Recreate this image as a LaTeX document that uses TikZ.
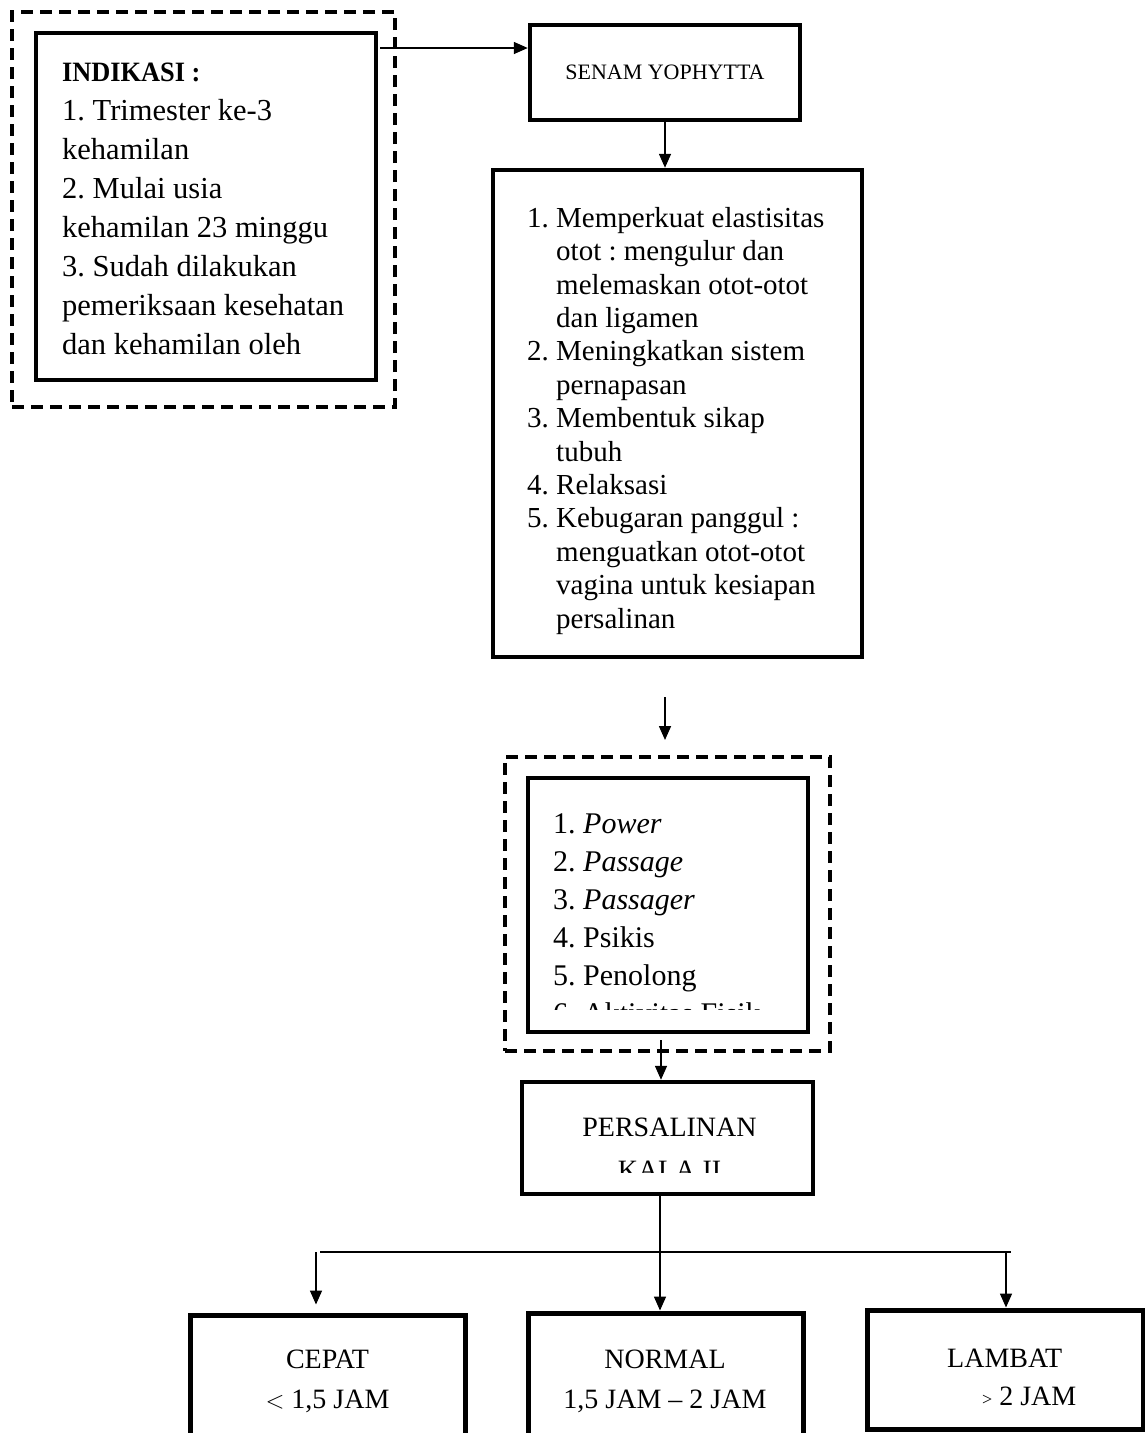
\documentclass[tikz,border=0pt]{standalone}
\usepackage{fontspec}
\setmainfont{Liberation Serif}
\usetikzlibrary{arrows.meta}
\frenchspacing
\newcommand{\num}[1]{\makebox[29pt][l]{#1}}
\newcommand{\cont}{\hspace*{29pt}}
\tikzset{
  box/.style={draw,line width=4.5pt,inner sep=0pt},
  dbox/.style={draw,line width=4.5pt,dash pattern=on 12pt off 7pt,inner sep=0pt},
  arr/.style={line width=1.6pt,-{Triangle[length=14pt,width=12pt]}},
  txt/.style={inner sep=0pt,align=left,anchor=north west}
}
\begin{document}
\begin{tikzpicture}[x=1pt,y=-1pt]
\useasboundingbox (0,0) rectangle (1145,1433);
\node[dbox,minimum width=383pt,minimum height=395pt] (indd) at (203.5,209.5){};
\node[box,minimum width=340pt,minimum height=347pt] (ind) at (206,206.5){};
\node[txt,font=\fontsize{30.5}{38.9}\selectfont] (indtxt) at (62,63){{\bfseries\fontsize{28}{38.9}\selectfont\scalebox{0.94}[1]{INDIKASI :}}\\
1. Trimester ke-3\\
kehamilan\\
2. Mulai usia\\
kehamilan 23 minggu\\
3. Sudah dilakukan\\
pemeriksaan kesehatan\\
dan kehamilan oleh};
\node[box,minimum width=270pt,minimum height=95pt,font=\fontsize{22}{26}\selectfont] (senam) at (665,72.5){SENAM YOPHYTTA};
\coordinate (s1) at (380,48);
\draw[arr] (s1) -- (s1 -| senam.west);
\node[box,minimum width=369pt,minimum height=487pt] (manfaat) at (677.5,413.5){};
\draw[arr] (senam.south) -- (senam.south |- manfaat.north);
\node[txt,font=\fontsize{29}{33.4}\selectfont] (manfaattxt) at (527,207){\num{1.}Memperkuat elastisitas\\
\cont otot : mengulur dan\\
\cont melemaskan otot-otot\\
\cont dan ligamen\\
\num{2.}Meningkatkan sistem\\
\cont pernapasan\\
\num{3.}Membentuk sikap\\
\cont tubuh\\
\num{4.}Relaksasi\\
\num{5.}Kebugaran panggul :\\
\cont menguatkan otot-otot\\
\cont vagina untuk kesiapan\\
\cont persalinan};
\coordinate (m1) at (665,697);
\coordinate (m2) at (665,740);
\draw[arr] (m1) -- (m2);
\node[dbox,minimum width=325pt,minimum height=294pt] (faktord) at (667.5,904){};
\node[box,minimum width=280pt,minimum height=254pt] (faktor) at (668,905){};
\begin{scope}
\clip (532,790) rectangle (804,1009);
\node[txt,font=\fontsize{30}{38}\selectfont] (faktortxt) at (553,813){1. \textit{Power}\\
2. \textit{Passage}\\
3. \textit{Passager}\\
4. Psikis\\
5. Penolong\\
6. Aktivitas Fisik};
\end{scope}
\node[box,minimum width=291pt,minimum height=112pt] (salin) at (667.5,1138){};
\coordinate (f1) at (661,1040);
\draw[arr] (f1) -- (f1 |- salin.north);
\begin{scope}
\clip (527,1090) rectangle (808,1172);
\node[inner sep=0pt,align=center,anchor=north,font=\fontsize{28}{43}\selectfont] (salintxt) at (669.5,1118){PERSALINAN\\KALA II};
\end{scope}
\node[box,line width=5pt,minimum width=275pt,minimum height=170pt] (cepat) at (327.5,1400){};
\node[box,line width=5pt,minimum width=275pt,minimum height=170pt] (normal) at (665.5,1398){};
\node[box,line width=5pt,minimum width=276pt,minimum height=119pt] (lambat) at (1005,1369.5){};
\node[inner sep=0pt,align=center,anchor=north,font=\fontsize{28}{40}\selectfont] (cepattxt) at (327.5,1349.5){CEPAT\\$<$ 1,5 JAM};
\node[inner sep=0pt,align=center,anchor=north,font=\fontsize{28}{40}\selectfont] (normaltxt) at (665,1349.5){NORMAL\\1,5 JAM -- 2 JAM};
\node[txt,font=\fontsize{28}{38}\selectfont] (lambattxt) at (947,1348.5){LAMBAT\\\hspace*{35pt}{\fontsize{18}{18}\selectfont >} 2 JAM};
\coordinate (t0) at (660,1252);
\coordinate (jl) at (316,1252);
\coordinate (jr) at (1011,1252);
\coordinate (jr2) at (1006,1252);
\draw[line width=1.6pt] (jl) ++(4,0) -- (jr);
\draw[arr] (t0 |- salin.south) -- (t0 |- normal.north);
\draw[arr,shorten >=8pt] (jl) -- (jl |- cepat.north);
\draw[arr] (jr2) -- (jr2 |- lambat.north);
\end{tikzpicture}
\end{document}
